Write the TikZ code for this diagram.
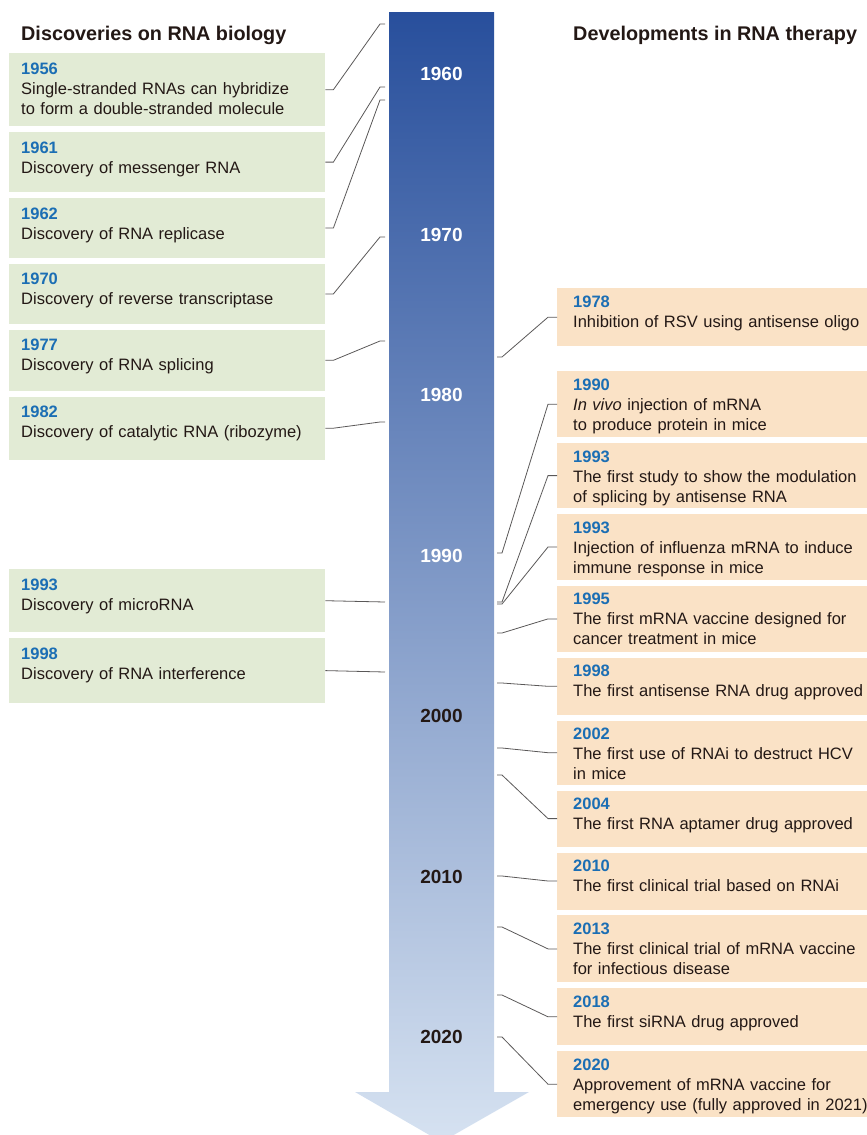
\documentclass[tikz,border=0pt]{standalone}
\usepackage{fontspec}
\setmainfont{Liberation Sans}
\usetikzlibrary{positioning}
\definecolor{bartop}{RGB}{40,79,156}
\definecolor{barbot}{RGB}{214,226,241}
\definecolor{greenfill}{RGB}{226,235,213}
\definecolor{peachfill}{RGB}{250,226,198}
\definecolor{yearblue}{RGB}{27,110,180}
\definecolor{inkdark}{RGB}{35,24,21}
\definecolor{linegray}{RGB}{90,88,88}
\newcommand{\yeartxt}[1]{{\color{yearblue}\bfseries #1}}
\tikzstyle{greenbox} = [rectangle, anchor=north west, fill=greenfill, text=inkdark, align=left, text width=292pt, inner xsep=12pt, inner ysep=9pt, text height=12pt, font=\fontsize{16.5}{20}\selectfont]
\tikzstyle{peachbox} = [rectangle, anchor=north west, fill=peachfill, text=inkdark, align=left, text width=320pt, inner xsep=16pt, inner ysep=7pt, text height=12pt, font=\fontsize{16.5}{20}\selectfont]
\tikzstyle{heading} = [anchor=base west, inner sep=0pt, text=inkdark, font=\fontsize{19.8}{24}\selectfont\bfseries]
\tikzstyle{decade} = [inner sep=0pt, font=\fontsize{19}{22}\selectfont\bfseries]
\tikzstyle{link} = [draw=linegray, line width=0.8pt]

\begin{document}
\begin{tikzpicture}[x=1pt, y=-1pt, node distance=5.5pt]
\useasboundingbox (0,0) rectangle (867,1135);

% time axis
\shade [top color=bartop, bottom color=barbot] (389,12) -- (494,12) -- (494,1092) -- (529,1092) -- (441.5,1142) -- (355,1092) -- (389,1092) -- cycle;
\node (d1960) [decade, text=white] at (441.5,74) {1960};
\node (d1970) [decade, text=white] at (441.5,235) {1970};
\node (d1980) [decade, text=white] at (441.5,395) {1980};
\node (d1990) [decade, text=white] at (441.5,556) {1990};
\node (d2000) [decade, text=inkdark] at (441.5,716) {2000};
\node (d2010) [decade, text=inkdark] at (441.5,877) {2010};
\node (d2020) [decade, text=inkdark] at (441.5,1037) {2020};

\node (hbio) [heading] at (21,40.5) {Discoveries on RNA biology};
\node (hther) [heading] at (573,40.5) {Developments in RNA therapy};

% RNA biology
\node (g1956) [greenbox, text depth=43pt] at (9,53) {\yeartxt{1956}\\Single-stranded RNAs can hybridize\\to form a double-stranded molecule};
\node (g1961) [greenbox, text depth=30pt, below=of g1956] {\yeartxt{1961}\\Discovery of messenger RNA};
\node (g1962) [greenbox, text depth=30pt, below=of g1961] {\yeartxt{1962}\\Discovery of RNA replicase};
\node (g1970) [greenbox, text depth=30pt, below=of g1962] {\yeartxt{1970}\\Discovery of reverse transcriptase};
\node (g1977) [greenbox, text depth=31pt, below=of g1970] {\yeartxt{1977}\\Discovery of RNA splicing};
\node (g1982) [greenbox, text depth=33pt, below=of g1977] {\yeartxt{1982}\\Discovery of catalytic RNA (ribozyme)};
\node (g1993) [greenbox, text depth=33pt] at (9,569) {\yeartxt{1993}\\Discovery of microRNA};
\node (g1998) [greenbox, text depth=35pt, below=of g1993] {\yeartxt{1998}\\Discovery of RNA interference};

% RNA therapy
\node (r1978) [peachbox, text depth=32pt] at (557,288) {\yeartxt{1978}\\Inhibition of RSV using antisense oligo};
\node (r1990) [peachbox, text depth=40pt] at (557,371) {\yeartxt{1990}\\\textit{In vivo} injection of mRNA\\to produce protein in mice};
\node (r1993a) [peachbox, text depth=39pt, below=of r1990] {\yeartxt{1993}\\The first study to show the modulation\\of splicing by antisense RNA};
\node (r1993b) [peachbox, text depth=40pt, below=of r1993a] {\yeartxt{1993}\\Injection of influenza mRNA to induce\\immune response in mice};
\node (r1995) [peachbox, text depth=40pt, below=of r1993b] {\yeartxt{1995}\\The first mRNA vaccine designed for\\cancer treatment in mice};
\node (r1998) [peachbox, text depth=31pt, below=of r1995] {\yeartxt{1998}\\The first antisense RNA drug approved};
\node (r2002) [peachbox, text depth=38pt, below=of r1998] {\yeartxt{2002}\\The first use of RNAi to destruct HCV\\in mice};
\node (r2004) [peachbox, text depth=30pt, below=of r2002] {\yeartxt{2004}\\The first RNA aptamer drug approved};
\node (r2010) [peachbox, text depth=31pt, below=of r2004] {\yeartxt{2010}\\The first clinical trial based on RNAi};
\node (r2013) [peachbox, text depth=41pt, below=of r2010] {\yeartxt{2013}\\The first clinical trial of mRNA vaccine\\for infectious disease};
\node (r2018) [peachbox, text depth=31pt, below=of r2013] {\yeartxt{2018}\\The first siRNA drug approved};
\node (r2020) [peachbox, text depth=40pt, below=of r2018] {\yeartxt{2020}\\Approvement of mRNA vaccine for\\emergency use (fully approved in 2021)};

% points on the axis
\coordinate (c1956) at (385,24);
\coordinate (c1961) at (385,87);
\coordinate (c1962) at (385,100);
\coordinate (c1970) at (385,237);
\coordinate (c1977) at (385,341);
\coordinate (c1982) at (385,422);
\coordinate (c1993) at (385,602);
\coordinate (c1998) at (385,672);
\coordinate (c1978) at (497,357);
\coordinate (c1990) at (497,553);
\coordinate (c1993a) at (497,602);
\coordinate (c1993b) at (497,604);
\coordinate (c1995) at (497,633);
\coordinate (c1998r) at (497,683);
\coordinate (c2002) at (497,748);
\coordinate (c2004) at (497,775);
\coordinate (c2010) at (497,876);
\coordinate (c2013) at (497,927);
\coordinate (c2018) at (497,995);
\coordinate (c2020) at (497,1037);

\draw [link] (g1956.east) -- ++(8,0) -- ([xshift=-5pt]c1956) -- (c1956);
\draw [link] (g1961.east) -- ++(8,0) -- ([xshift=-5pt]c1961) -- (c1961);
\draw [link] (g1962.east) -- ++(8,0) -- ([xshift=-5pt]c1962) -- (c1962);
\draw [link] (g1970.east) -- ++(8,0) -- ([xshift=-5pt]c1970) -- (c1970);
\draw [link] (g1977.east) -- ++(8,0) -- ([xshift=-5pt]c1977) -- (c1977);
\draw [link] (g1982.east) -- ++(8,0) -- ([xshift=-5pt]c1982) -- (c1982);
\draw [link] (g1993.east) -- (c1993);
\draw [link] (g1998.east) -- (c1998);

\draw [link] (c1978) -- ++(5,0) -- ([xshift=-9pt]r1978.west) -- (r1978.west);
\draw [link] (c1990) -- ++(5,0) -- ([xshift=-9pt]r1990.west) -- (r1990.west);
\draw [link] (c1993a) -- ++(5,0) -- ([xshift=-9pt]r1993a.west) -- (r1993a.west);
\draw [link] (c1993b) -- ++(5,0) -- ([xshift=-9pt]r1993b.west) -- (r1993b.west);
\draw [link] (c1995) -- ++(5,0) -- ([xshift=-9pt]r1995.west) -- (r1995.west);
\draw [link] (c1998r) -- ++(5,0) -- ([xshift=-9pt]r1998.west) -- (r1998.west);
\draw [link] (c2002) -- ++(5,0) -- ([xshift=-9pt]r2002.west) -- (r2002.west);
\draw [link] (c2004) -- ++(5,0) -- ([xshift=-9pt]r2004.west) -- (r2004.west);
\draw [link] (c2010) -- ++(5,0) -- ([xshift=-9pt]r2010.west) -- (r2010.west);
\draw [link] (c2013) -- ++(5,0) -- ([xshift=-9pt]r2013.west) -- (r2013.west);
\draw [link] (c2018) -- ++(5,0) -- ([xshift=-9pt]r2018.west) -- (r2018.west);
\draw [link] (c2020) -- ++(5,0) -- ([xshift=-9pt]r2020.west) -- (r2020.west);
\end{tikzpicture}
\end{document}
